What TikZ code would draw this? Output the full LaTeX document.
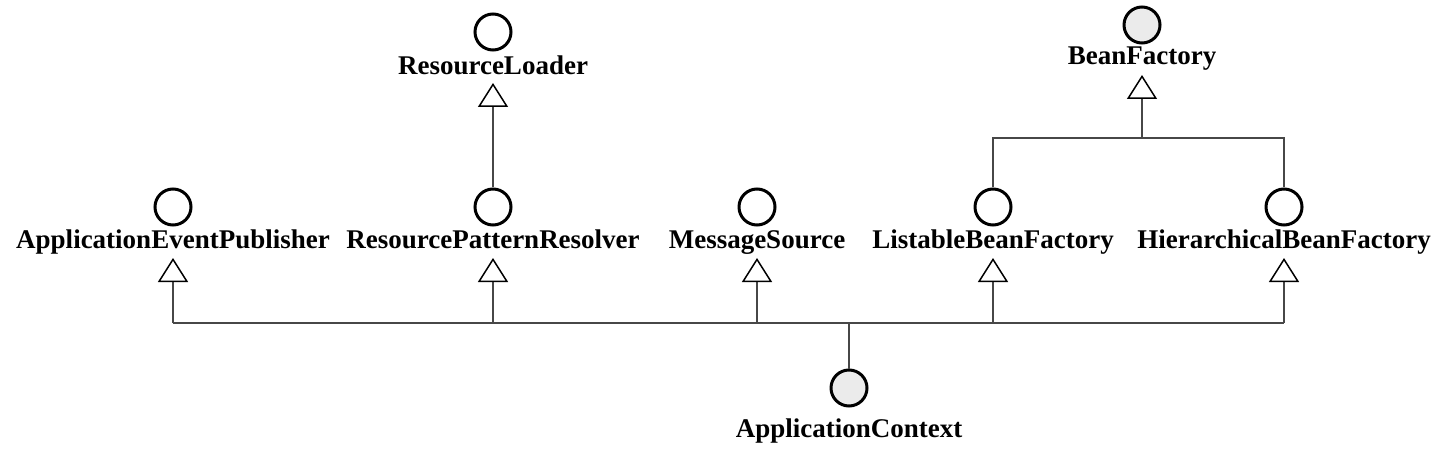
\documentclass[tikz,border=0pt]{standalone}
\usepackage{fontspec}
\setmainfont{Liberation Serif}
\usetikzlibrary{arrows.meta}
\begin{document}
\begin{tikzpicture}[x=1pt,y=-1pt,
  iface/.style={circle,draw=black,line width=3pt,fill=white,minimum size=36pt,inner sep=0pt},
  root/.style={iface,fill=black!8},
  lbl/.style={font=\fontsize{27}{30}\selectfont\bfseries,inner sep=0pt,anchor=base},
  conn/.style={draw=black!72,line width=2.2pt},
  gen/.style={conn,-{Triangle[open,width=30pt,length=24pt,line width=1.5pt,color=black]},shorten >=10pt}]
\useasboundingbox (0,0) rectangle (1450,454);
% interface circles
\node[iface] (aep) at (173,207) {};
\node[iface] (rpr) at (493,207) {};
\node[iface] (ms)  at (757,207) {};
\node[iface] (lbf) at (993,207) {};
\node[iface] (hbf) at (1284,207) {};
\node[iface] (rl)  at (493,32) {};
\node[root]  (bf)  at (1142,25) {};
\node[root]  (ac)  at (849,388) {};
% labels
\node[lbl] (aepL) at (173,248) {ApplicationEventPublisher};
\node[lbl] (rprL) at (493,248) {ResourcePatternResolver};
\node[lbl] (msL)  at (757,248) {MessageSource};
\node[lbl] (lbfL) at (993,248) {ListableBeanFactory};
\node[lbl] (hbfL) at (1284,248) {HierarchicalBeanFactory};
\node[lbl] (rlL)  at (493,75) {ResourceLoader};
\node[lbl] (bfL)  at (1142,65) {BeanFactory};
\node[lbl] (acL)  at (849,437) {ApplicationContext};
% bus coordinates
\coordinate (b1) at (173,323);
\coordinate (b2) at (493,323);
\coordinate (b3) at (757,323);
\coordinate (b4) at (993,323);
\coordinate (b5) at (1284,323);
\coordinate (bc) at (849,323);
\coordinate (j)  at (1142,138);
% connectors
\draw[conn] (b1) -- (b5);
\draw[conn] (bc) -- (ac);
\draw[gen] (b1) -- (aepL.base);
\draw[gen] (b2) -- (rprL.base);
\draw[gen] (b3) -- (msL.base);
\draw[gen] (b4) -- (lbfL.base);
\draw[gen] (b5) -- (hbfL.base);
\draw[gen,shorten >=8pt] (rpr) -- (rlL.base);
\draw[conn] (lbf) |- (j) -| (hbf);
\draw[gen] (j) -- (bfL.base);
\end{tikzpicture}
\end{document}
